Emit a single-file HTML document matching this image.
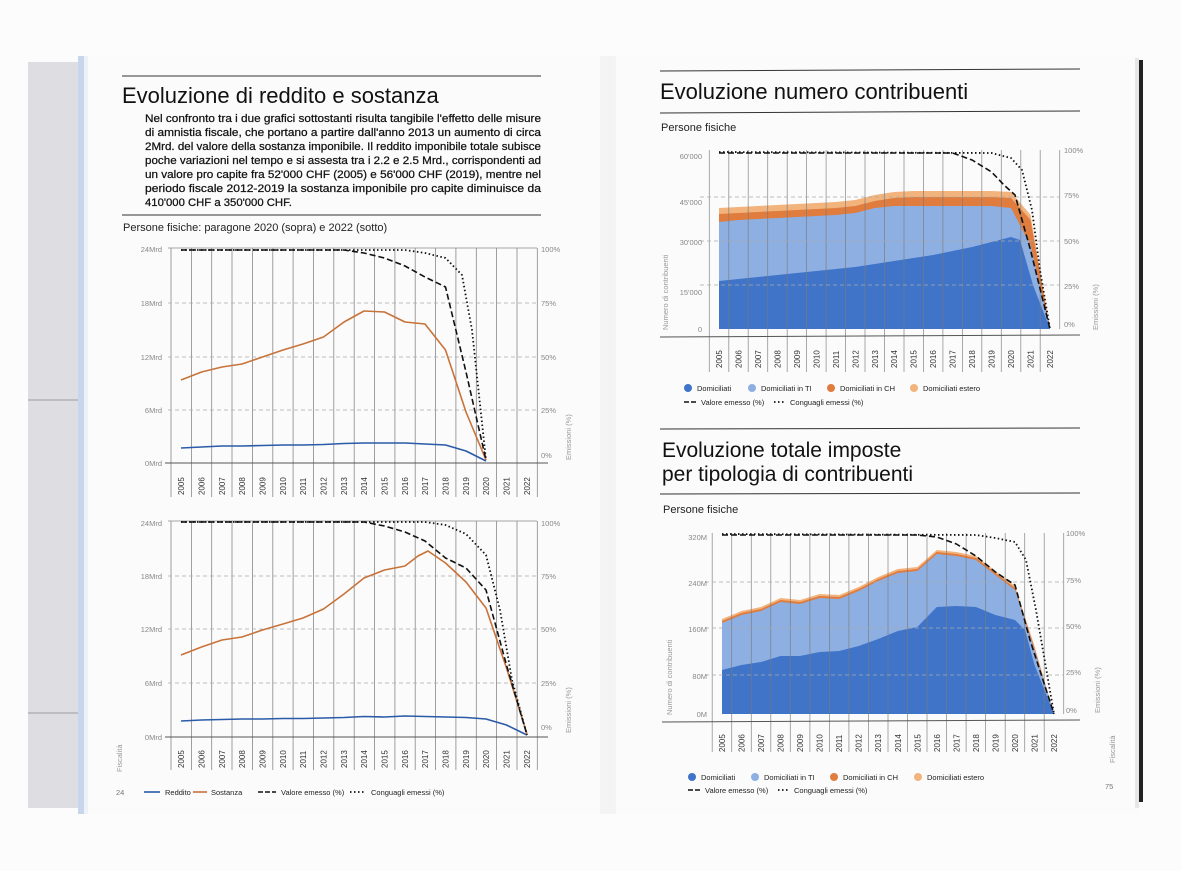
<!DOCTYPE html>
<html><head><meta charset="utf-8"><style>
html,body{margin:0;padding:0;background:#fff;}
svg{display:block;font-family:"Liberation Sans",sans-serif;}
</style></head><body>
<svg width="1181" height="871" viewBox="0 0 1181 871" xmlns="http://www.w3.org/2000/svg">
<rect width="1181" height="871" fill="#fcfcfc"/>
<rect x="28" y="62" width="52" height="746" fill="#dedee2"/>
<line x1="28" y1="400" x2="80" y2="400" stroke="#9a9aa0"/>
<line x1="28" y1="713" x2="80" y2="713" stroke="#9a9aa0"/>
<rect x="78" y="56" width="532" height="758" fill="#f8f8f8"/>
<rect x="78" y="56" width="6" height="758" fill="#c8d6ec"/>
<rect x="84" y="56" width="4" height="758" fill="#eef2f8"/>
<rect x="88" y="56" width="520" height="758" fill="#fbfbfb"/>
<rect x="610" y="56" width="530" height="758" fill="#fbfbfb"/>
<rect x="600" y="56" width="16" height="758" fill="#f0f0f0" opacity="0.6"/>
<rect x="1135" y="58" width="4" height="750" fill="#e6e6e6"/>
<rect x="1139" y="60" width="4" height="742" fill="#222"/>

<line x1="122" y1="76" x2="541" y2="76" stroke="#333"/>
<text x="122" y="103" font-size="22" fill="#111">Evoluzione di reddito e sostanza</text>
<g font-size="11.3" fill="#111" stroke="#111" stroke-width="0.25">
<text x="145" y="122" textLength="396" lengthAdjust="spacingAndGlyphs">Nel confronto tra i due grafici sottostanti risulta tangibile l'effetto delle misure</text>
<text x="145" y="136" textLength="396" lengthAdjust="spacingAndGlyphs">di amnistia fiscale, che portano a partire dall'anno 2013 un aumento di circa</text>
<text x="145" y="150" textLength="396" lengthAdjust="spacingAndGlyphs">2Mrd. del valore della sostanza imponibile. Il reddito imponibile totale subisce</text>
<text x="145" y="164" textLength="396" lengthAdjust="spacingAndGlyphs">poche variazioni nel tempo e si assesta tra i 2.2 e 2.5 Mrd., corrispondenti ad</text>
<text x="145" y="178" textLength="396" lengthAdjust="spacingAndGlyphs">un valore pro capite fra 52'000 CHF (2005) e 56'000 CHF (2019), mentre nel</text>
<text x="145" y="192" textLength="396" lengthAdjust="spacingAndGlyphs">periodo fiscale 2012-2019 la sostanza imponibile pro capite diminuisce da</text>
<text x="145" y="206">410'000 CHF a 350'000 CHF.</text>
</g>
<line x1="122" y1="215" x2="541" y2="215" stroke="#333"/>
<text x="123" y="231" font-size="11" fill="#222">Persone fisiche: paragone 2020 (sopra) e 2022 (sotto)</text>

<g stroke="#888" stroke-width="0.8">
<path d="M171 248V497M191.4 248V497M211.7 248V497M232 248V497M252.4 248V497M272.8 248V497M293.1 248V497M313.5 248V497M333.8 248V497M354.2 248V497M374.5 248V497M394.9 248V497M415.2 248V497M435.6 248V497M455.9 248V497M476.3 248V497M496.6 248V497M517 248V497M537.3 248V497"/>
<line x1="168" y1="248" x2="537" y2="248"/>
</g>
<g stroke="#aaa" stroke-dasharray="4,3" stroke-width="0.8"><path d="M168 303H537M168 357H537M168 410H537"/></g>
<line x1="165" y1="463" x2="548" y2="463" stroke="#555"/>
<g font-size="7.5" fill="#888" text-anchor="end"><text x="162" y="252">24Mrd</text><text x="162" y="306">18Mrd</text><text x="162" y="360">12Mrd</text><text x="162" y="413">6Mrd</text><text x="162" y="466">0Mrd</text></g>
<g font-size="7.5" fill="#888"><text x="541" y="252">100%</text><text x="541" y="306">75%</text><text x="541" y="360">50%</text><text x="541" y="413">25%</text><text x="541" y="458">0%</text></g>
<text transform="translate(571,460) rotate(-90)" font-size="7.5" fill="#999">Emissioni (%)</text>
<g font-size="8" fill="#333">
<text transform="translate(184,495) rotate(-90)">2005</text><text transform="translate(204.5,495) rotate(-90)">2006</text><text transform="translate(225,495) rotate(-90)">2007</text><text transform="translate(245,495) rotate(-90)">2008</text><text transform="translate(265.5,495) rotate(-90)">2009</text><text transform="translate(286,495) rotate(-90)">2010</text><text transform="translate(306,495) rotate(-90)">2011</text><text transform="translate(326.5,495) rotate(-90)">2012</text><text transform="translate(347,495) rotate(-90)">2013</text><text transform="translate(367,495) rotate(-90)">2014</text><text transform="translate(387.5,495) rotate(-90)">2015</text><text transform="translate(408,495) rotate(-90)">2016</text><text transform="translate(428,495) rotate(-90)">2017</text><text transform="translate(448.5,495) rotate(-90)">2018</text><text transform="translate(469,495) rotate(-90)">2019</text><text transform="translate(489,495) rotate(-90)">2020</text><text transform="translate(509.5,495) rotate(-90)">2021</text><text transform="translate(530,495) rotate(-90)">2022</text>
</g>
<g fill="none" stroke-linejoin="round">
<polyline stroke="#c8733a" stroke-width="1.6" points="181,380 201.5,372 222,367 242,364 262.5,357 283,350 303,344 323.5,337 344,322 364,311 384.5,312 405,322 425,324 445.5,350 466,412 486,460"/>
<polyline stroke="#2a5aa8" stroke-width="1.6" points="181,448 201.5,447 222,446 242,446 262.5,445.5 283,445 303,445 323.5,444.5 344,443.5 364,443 384.5,443 405,443 425,444 445.5,445 466,451 486,461"/>
<polyline stroke="#111" stroke-width="1.6" stroke-dasharray="6,3" points="181,250 344,250 364,253 384.5,258 405,266 425,277 445.5,287 466,372 486,460"/>
<polyline stroke="#111" stroke-width="1.8" stroke-dasharray="1.5,2.5" points="181,250 405,250 425,253 445.5,258 462,275 472,330 486,460"/>
</g>

<g stroke="#888" stroke-width="0.8">
<path d="M171 521V770M191.4 521V770M211.7 521V770M232 521V770M252.4 521V770M272.8 521V770M293.1 521V770M313.5 521V770M333.8 521V770M354.2 521V770M374.5 521V770M394.9 521V770M415.2 521V770M435.6 521V770M455.9 521V770M476.3 521V770M496.6 521V770M517 521V770M537.3 521V770"/>
<line x1="168" y1="521" x2="537" y2="521"/>
</g>
<g stroke="#aaa" stroke-dasharray="4,3" stroke-width="0.8"><path d="M168 576H537M168 629H537M168 683H537"/></g>
<line x1="165" y1="737" x2="548" y2="737" stroke="#555"/>
<g font-size="7.5" fill="#888" text-anchor="end"><text x="162" y="526">24Mrd</text><text x="162" y="579">18Mrd</text><text x="162" y="632">12Mrd</text><text x="162" y="686">6Mrd</text><text x="162" y="740">0Mrd</text></g>
<g font-size="7.5" fill="#888"><text x="541" y="526">100%</text><text x="541" y="579">75%</text><text x="541" y="632">50%</text><text x="541" y="686">25%</text><text x="541" y="730">0%</text></g>
<text transform="translate(571,733) rotate(-90)" font-size="7.5" fill="#999">Emissioni (%)</text>
<text transform="translate(122,772) rotate(-90)" font-size="7.5" fill="#999">Fiscalità</text>
<g font-size="8" fill="#333">
<text transform="translate(184,768) rotate(-90)">2005</text><text transform="translate(204.5,768) rotate(-90)">2006</text><text transform="translate(225,768) rotate(-90)">2007</text><text transform="translate(245,768) rotate(-90)">2008</text><text transform="translate(265.5,768) rotate(-90)">2009</text><text transform="translate(286,768) rotate(-90)">2010</text><text transform="translate(306,768) rotate(-90)">2011</text><text transform="translate(326.5,768) rotate(-90)">2012</text><text transform="translate(347,768) rotate(-90)">2013</text><text transform="translate(367,768) rotate(-90)">2014</text><text transform="translate(387.5,768) rotate(-90)">2015</text><text transform="translate(408,768) rotate(-90)">2016</text><text transform="translate(428,768) rotate(-90)">2017</text><text transform="translate(448.5,768) rotate(-90)">2018</text><text transform="translate(469,768) rotate(-90)">2019</text><text transform="translate(489,768) rotate(-90)">2020</text><text transform="translate(509.5,768) rotate(-90)">2021</text><text transform="translate(530,768) rotate(-90)">2022</text>
</g>
<g fill="none" stroke-linejoin="round">
<polyline stroke="#c8733a" stroke-width="1.6" points="181,655 201.5,647 222,640 242,637 262.5,630 283,624 303,618 323.5,609 344,594 364,578 384.5,570 405,566 418,556 428,551 445.5,563 466,582 486,608 506.5,668 527,734"/>
<polyline stroke="#2a5aa8" stroke-width="1.6" points="181,721 201.5,720 222,719.5 242,719 262.5,719 283,718.5 303,718.5 323.5,718 344,717.5 364,716.5 384.5,717 405,716 425,716.5 445.5,717 466,717.5 486,719 506.5,725 527,735"/>
<polyline stroke="#111" stroke-width="1.6" stroke-dasharray="6,3" points="181,522 364,522 384.5,526 405,532 425,541 445.5,558 466,568 486,590 506.5,665 527,735"/>
<polyline stroke="#111" stroke-width="1.8" stroke-dasharray="1.5,2.5" points="181,522 425,522 445.5,525 466,534 486,555 500,610 512,680 527,735"/>
</g>
<g font-size="7.5" fill="#222">
<line x1="144" y1="792" x2="160" y2="792" stroke="#2a5aa8" stroke-width="1.6"/><text x="165" y="795">Reddito</text>
<line x1="193" y1="792" x2="207" y2="792" stroke="#c8733a" stroke-width="1.6"/><text x="211" y="795">Sostanza</text>
<line x1="258" y1="792" x2="276" y2="792" stroke="#111" stroke-width="1.6" stroke-dasharray="5,2"/><text x="281" y="795">Valore emesso (%)</text>
<line x1="350" y1="792" x2="366" y2="792" stroke="#111" stroke-width="1.8" stroke-dasharray="1.5,2.5"/><text x="371" y="795">Conguagli emessi (%)</text>
</g>
<text x="116" y="795" font-size="7.5" fill="#777">24</text>

<line x1="660" y1="71" x2="1080" y2="69" stroke="#333"/>
<text x="660" y="99" font-size="22" fill="#111">Evoluzione numero contribuenti</text>
<line x1="660" y1="113" x2="1080" y2="111" stroke="#333"/>
<text x="661" y="131" font-size="11" fill="#222">Persone fisiche</text>

<g>
<polygon fill="#f2b37c" points="719,208 738.5,207 758,206 777.4,205 796.9,204 816.4,203 835.8,202 855.3,200 874.8,195 894.2,192 913.7,191 933.2,191 952.6,191 972.1,191 991.6,191 1011,192 1030.5,215 1050,329 719,329"/>
<polygon fill="#e07c3e" points="719,214 738.5,213 758,212 777.4,211 796.9,210 816.4,209 835.8,208 855.3,206 874.8,201 894.2,198 913.7,197 933.2,197 952.6,197 972.1,197 991.6,197 1011,198 1030.5,220 1050,329 719,329"/>
<polygon fill="#8eafe2" points="719,222 738.5,220 758,219 777.4,218 796.9,217 816.4,216 835.8,215 855.3,213 874.8,208 894.2,206 913.7,206 933.2,206 952.6,206 972.1,206 991.6,206 1011,208 1030.5,245 1050,329 719,329"/>
<polygon fill="#3f74c8" points="719,281 738.5,279 758,277 777.4,275 796.9,273 816.4,271 835.8,269 855.3,267 874.8,264 894.2,261 913.7,258 933.2,255 952.6,251 972.1,247 991.6,242 1011,237 1020,240 1033,285 1050,329 719,329"/>
</g>
<g stroke="#7a7a7a" stroke-width="0.8" opacity="0.8">
<path d="M709.3 150V372M728.8 150V372M748.2 150V372M767.7 150V372M787.2 150V372M806.6 150V372M826.1 150V372M845.6 150V372M865 150V372M884.5 150V372M904 150V372M923.4 150V372M942.9 150V372M962.4 150V372M981.8 150V372M1001.3 150V372M1020.8 150V372M1040.2 150V372M1059.7 150V329"/>
</g>
<g stroke="#aaa" stroke-dasharray="4,3" stroke-width="0.8"><path d="M700 197H1060M700 241H1060M700 285H1060"/></g>
<line x1="660" y1="337" x2="1080" y2="335" stroke="#555"/>
<g font-size="7.5" fill="#888" text-anchor="end"><text x="702" y="159">60'000</text><text x="702" y="205">45'000</text><text x="702" y="245">30'000</text><text x="702" y="295">15'000</text><text x="702" y="332">0</text></g>
<g font-size="7.5" fill="#888"><text x="1064" y="153">100%</text><text x="1064" y="198">75%</text><text x="1064" y="244">50%</text><text x="1064" y="289">25%</text><text x="1064" y="327">0%</text></g>
<text transform="translate(668,330) rotate(-90)" font-size="7.5" fill="#999">Numero di contribuenti</text>
<text transform="translate(1098,330) rotate(-90)" font-size="7.5" fill="#999">Emissioni (%)</text>
<g font-size="8" fill="#333">
<text transform="translate(722,368) rotate(-90)">2005</text><text transform="translate(741.5,368) rotate(-90)">2006</text><text transform="translate(761,368) rotate(-90)">2007</text><text transform="translate(780.4,368) rotate(-90)">2008</text><text transform="translate(799.9,368) rotate(-90)">2009</text><text transform="translate(819.4,368) rotate(-90)">2010</text><text transform="translate(838.8,368) rotate(-90)">2011</text><text transform="translate(858.3,368) rotate(-90)">2012</text><text transform="translate(877.8,368) rotate(-90)">2013</text><text transform="translate(897.2,368) rotate(-90)">2014</text><text transform="translate(916.7,368) rotate(-90)">2015</text><text transform="translate(936.2,368) rotate(-90)">2016</text><text transform="translate(955.6,368) rotate(-90)">2017</text><text transform="translate(975.1,368) rotate(-90)">2018</text><text transform="translate(994.6,368) rotate(-90)">2019</text><text transform="translate(1014,368) rotate(-90)">2020</text><text transform="translate(1033.5,368) rotate(-90)">2021</text><text transform="translate(1053,368) rotate(-90)">2022</text>
</g>
<g fill="none" stroke-linejoin="round">
<polyline stroke="#111" stroke-width="1.6" stroke-dasharray="6,3" points="719,153 952.6,153 972.1,160 991.6,172 1004,185 1015,195 1030.5,250 1050,329"/>
<polyline stroke="#111" stroke-width="1.8" stroke-dasharray="1.5,2.5" points="719,152 991.6,153 1011,158 1022,170 1032,210 1040,270 1050,329"/>
</g>
<g font-size="7.5" fill="#222">
<circle cx="688" cy="388" r="4" fill="#3f74c8"/><text x="697" y="391">Domiciliati</text>
<circle cx="752" cy="388" r="4" fill="#8eafe2"/><text x="761" y="391">Domiciliati in TI</text>
<circle cx="831" cy="388" r="4" fill="#e07c3e"/><text x="840" y="391">Domiciliati in CH</text>
<circle cx="914" cy="388" r="4" fill="#f2b37c"/><text x="923" y="391">Domiciliati estero</text>
<line x1="684" y1="402" x2="697" y2="402" stroke="#111" stroke-width="1.6" stroke-dasharray="5,2"/><text x="701" y="405">Valore emesso (%)</text>
<line x1="774" y1="402" x2="786" y2="402" stroke="#111" stroke-width="1.8" stroke-dasharray="1.5,2.5"/><text x="790" y="405">Conguagli emessi (%)</text>
</g>
<line x1="660" y1="429" x2="1080" y2="428" stroke="#333"/>

<text x="662" y="457" font-size="21" fill="#111">Evoluzione totale imposte</text>
<text x="662" y="481" font-size="21" fill="#111">per tipologia di contribuenti</text>
<line x1="660" y1="494" x2="1080" y2="493" stroke="#333"/>
<text x="663" y="513" font-size="11" fill="#222">Persone fisiche</text>
<g>
<polygon fill="#f2b37c" points="722,619 741.5,611 761,607 780.6,598 800,600 819.6,594 839.2,595 858.7,587 878.2,577 897.8,569 917.3,567 936.8,550 956.4,552 975.9,556 995.4,571 1015,586 1034.5,646 1054,714 722,714"/>
<polygon fill="#e07c3e" points="722,621 741.5,613 761,609 780.6,600 800,602 819.6,596 839.2,597 858.7,589 878.2,579 897.8,571 917.3,569 936.8,552 956.4,554 975.9,558 995.4,573 1015,588 1034.5,648 1054,714 722,714"/>
<polygon fill="#8eafe2" points="722,623 741.5,615 761,611 780.6,602 800,604 819.6,598 839.2,599 858.7,591 878.2,581 897.8,573 917.3,571 936.8,554 956.4,556 975.9,560 995.4,575 1015,590 1034.5,650 1054,714 722,714"/>
<polygon fill="#3f74c8" points="722,670 741.5,665 761,662 780.6,656 800,656 819.6,652 839.2,651 858.7,646 878.2,639 897.8,631 917.3,627 936.8,607 956.4,606 975.9,607 995.4,615 1015,620 1025,630 1034.5,665 1054,714 722,714"/>
</g>
<g stroke="#7a7a7a" stroke-width="0.8" opacity="0.8">
<path d="M712.2 533V752M731.7 533V752M751.3 533V752M770.8 533V752M790.3 533V752M809.9 533V752M829.4 533V752M848.9 533V752M868.4 533V752M888 533V752M907.5 533V752M927 533V752M946.6 533V752M966.1 533V752M985.6 533V752M1005.2 533V752M1024.7 533V752M1044.2 533V752M1063.7 533V714"/>
</g>
<g stroke="#aaa" stroke-dasharray="4,3" stroke-width="0.8"><path d="M705 582H1064M705 628H1064M705 675H1064"/></g>
<line x1="662" y1="722" x2="1080" y2="720" stroke="#555"/>
<g font-size="7.5" fill="#888" text-anchor="end"><text x="707" y="540">320M</text><text x="707" y="586">240M</text><text x="707" y="632">160M</text><text x="707" y="679">80M</text><text x="707" y="717">0M</text></g>
<g font-size="7.5" fill="#888"><text x="1066" y="536">100%</text><text x="1066" y="583">75%</text><text x="1066" y="629">50%</text><text x="1066" y="675">25%</text><text x="1066" y="713">0%</text></g>
<text transform="translate(672,715) rotate(-90)" font-size="7.5" fill="#999">Numero di contribuenti</text>
<text transform="translate(1100,713) rotate(-90)" font-size="7.5" fill="#999">Emissioni (%)</text>
<text transform="translate(1115,763) rotate(-90)" font-size="7.5" fill="#999">Fiscalità</text>
<g font-size="8" fill="#333">
<text transform="translate(725,752) rotate(-90)">2005</text><text transform="translate(744.5,752) rotate(-90)">2006</text><text transform="translate(764,752) rotate(-90)">2007</text><text transform="translate(783.6,752) rotate(-90)">2008</text><text transform="translate(803,752) rotate(-90)">2009</text><text transform="translate(822.6,752) rotate(-90)">2010</text><text transform="translate(842.2,752) rotate(-90)">2011</text><text transform="translate(861.7,752) rotate(-90)">2012</text><text transform="translate(881.2,752) rotate(-90)">2013</text><text transform="translate(900.8,752) rotate(-90)">2014</text><text transform="translate(920.3,752) rotate(-90)">2015</text><text transform="translate(939.8,752) rotate(-90)">2016</text><text transform="translate(959.4,752) rotate(-90)">2017</text><text transform="translate(978.9,752) rotate(-90)">2018</text><text transform="translate(998.4,752) rotate(-90)">2019</text><text transform="translate(1018,752) rotate(-90)">2020</text><text transform="translate(1037.5,752) rotate(-90)">2021</text><text transform="translate(1057,752) rotate(-90)">2022</text>
</g>
<g fill="none" stroke-linejoin="round">
<polyline stroke="#111" stroke-width="1.6" stroke-dasharray="6,3" points="722,535 917.3,535 936.8,537 956.4,544 975.9,556 995.4,572 1015,585 1030,640 1054,714"/>
<polyline stroke="#111" stroke-width="1.8" stroke-dasharray="1.5,2.5" points="722,534 975.9,535 995.4,538 1015,542 1026,560 1036,610 1054,714"/>
</g>
<g font-size="7.5" fill="#222">
<circle cx="692" cy="777" r="4" fill="#3f74c8"/><text x="701" y="780">Domiciliati</text>
<circle cx="755" cy="777" r="4" fill="#8eafe2"/><text x="764" y="780">Domiciliati in TI</text>
<circle cx="834" cy="777" r="4" fill="#e07c3e"/><text x="843" y="780">Domiciliati in CH</text>
<circle cx="918" cy="777" r="4" fill="#f2b37c"/><text x="927" y="780">Domiciliati estero</text>
<line x1="688" y1="790" x2="701" y2="790" stroke="#111" stroke-width="1.6" stroke-dasharray="5,2"/><text x="705" y="793">Valore emesso (%)</text>
<line x1="778" y1="790" x2="790" y2="790" stroke="#111" stroke-width="1.8" stroke-dasharray="1.5,2.5"/><text x="794" y="793">Conguagli emessi (%)</text>
</g>
<text x="1105" y="789" font-size="7.5" fill="#777">75</text>
</svg>
</body></html>
